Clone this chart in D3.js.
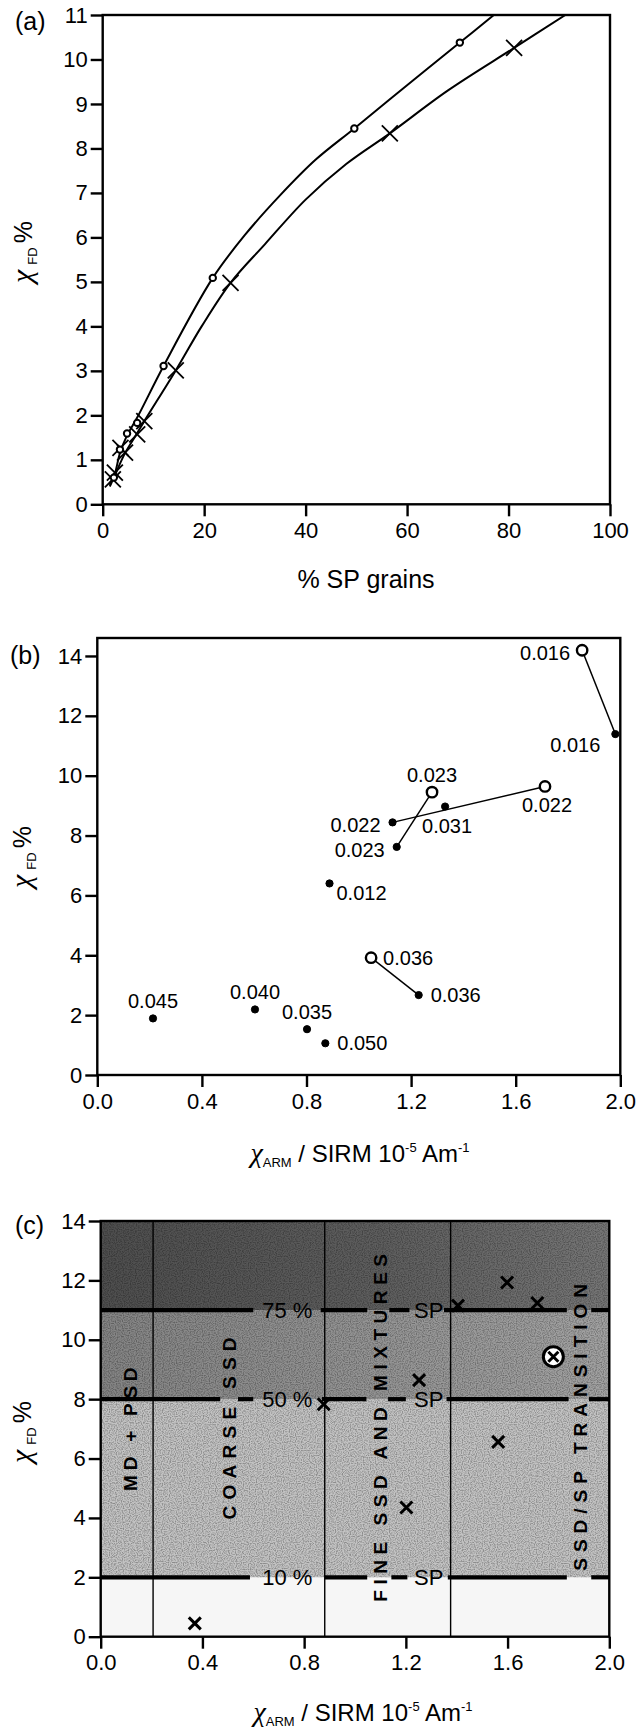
<!DOCTYPE html>
<html>
<head>
<meta charset="utf-8">
<script src="https://cdn.jsdelivr.net/npm/d3@7"></script>
<style>
    body { margin: 0; background: #fff; }
    svg text { font-family: "Liberation Sans", Arial, sans-serif; fill: #000; }
</style>
</head>
<body>
<svg id="chart" width="636" height="1731"></svg>
<script>
// ---------- panel (a): chi_FD % vs % SP grains ----------
var aDotX   = [2.2, 3.4, 4.8, 6.8, 12.0, 21.7, 49.6, 70.4];
var aDotY   = [0.60, 1.23, 1.59, 1.83, 3.11, 5.09, 8.45, 10.38];
var aCrossX = [2.0, 2.4, 3.5, 4.4, 6.8, 8.2, 14.4, 25.2, 56.6, 81.1];
var aCrossY = [0.56, 0.71, 1.27, 1.16, 1.57, 1.87, 3.01, 4.98, 8.34, 10.26];
// the two fitted curves
var aDotCurveX   = [1.2, 2.2, 3.4, 4.8, 6.8, 12.0, 21.7, 28.0, 35.0, 42.0, 49.6, 60.0, 70.4, 77.1];
var aDotCurveY   = [0.45, 0.62, 1.15, 1.55, 1.95, 3.11, 5.09, 6.05, 6.95, 7.75, 8.45, 9.42, 10.38, 11.0];
var aCrossCurveX = [1.4, 2.4, 4.4, 6.8, 8.2, 14.4, 19.5, 25.2, 32.0, 40.0, 48.0, 56.6, 68.0, 81.1, 91.2];
var aCrossCurveY = [0.40, 0.65, 1.15, 1.60, 1.87, 3.01, 4.00, 4.98, 5.85, 6.85, 7.65, 8.34, 9.30, 10.26, 11.0];
var aXTicks = [0, 20, 40, 60, 80, 100];
var aYTicks = [0, 1, 2, 3, 4, 5, 6, 7, 8, 9, 10, 11];

// ---------- panel (b): chi_FD % vs chiARM/SIRM, labelled points ----------
var bLabel = ["0.016", "0.016", "0.023", "0.022", "0.031", "0.022", "0.023", "0.012", "0.036", "0.036", "0.045", "0.040", "0.035", "0.050"];
var bX     = [1.854, 1.981, 1.280, 1.712, 1.330, 1.129, 1.145, 0.888, 1.047, 1.229, 0.213, 0.603, 0.802, 0.872];
var bY     = [14.19, 11.39, 9.45, 9.64, 8.97, 8.44, 7.62, 6.40, 3.92, 2.67, 1.89, 2.19, 1.53, 1.06];
var bOpen  = [true, false, true, true, false, false, false, false, true, false, false, false, false, false];
var bSide  = ["L", "BL", "A", "B", "B", "L", "L", "BR", "R", "R", "A", "A", "A", "R"];
var bLinks = [[0, 1], [2, 6], [5, 3], [8, 9]];
var bXTicks = [0, 0.4, 0.8, 1.2, 1.6, 2.0];
var bYTicks = [0, 2, 4, 6, 8, 10, 12, 14];

// ---------- panel (c): domain diagram ----------
var cBounds  = [2, 8, 11];
var cPercent = ["10 %", "50 %", "75 %"];
var cSegs = [
    [[0, 0.587], [0.881, 1.048], [1.143, 1.206], [1.365, 1.833], [1.929, 2.0]],
    [[0, 0.47], [0.54, 0.60], [0.87, 1.045], [1.13, 1.20], [1.36, 1.84], [1.92, 2.0]],
    [[0, 0.60], [0.865, 1.048], [1.135, 1.214], [1.35, 1.833], [1.929, 2.0]]
];
var cDivX    = [0.206, 0.881, 1.376];
var cRegion  = ["MD + PSD", "COARSE SSD", "FINE SSD AND MIXTURES", "SSD/SP TRANSITION"];
var cRegionX = [0.116, 0.505, 1.098, 1.884];
var cRegionY0 = [4.91, 3.95, 1.18, 2.22];
var cRegionY1 = [9.07, 10.08, 12.89, 11.88];
var cCrossX = [0.370, 1.202, 1.563, 0.877, 1.252, 1.598, 1.717, 1.405];
var cCrossY = [0.45, 4.35, 6.56, 7.83, 8.64, 11.93, 11.24, 11.15];
var cRingX = [1.78], cRingY = [9.43];
var cYTicks = [0, 2, 4, 6, 8, 10, 12, 14];

var svg = d3.select("#chart");
var defs = svg.append("defs");

// ---- shared helpers ----
function drawAxes(g, x, y, xTicks, yTicks, fmt, frame) {
    var ax = g.append("g").attr("transform", "translate(0," + y.range()[0] + ")")
        .call(d3.axisBottom(x).tickValues(xTicks).tickSize(12).tickPadding(6).tickFormat(fmt));
    var ay = g.append("g").attr("transform", "translate(" + x.range()[0] + ",0)")
        .call(d3.axisLeft(y).tickValues(yTicks).tickSize(12).tickPadding(3));
    [ax, ay].forEach(function(a) {
        a.select(".domain").remove();
        a.selectAll("line").attr("stroke", "#000").attr("stroke-width", 2.4);
        a.selectAll("text").attr("font-size", 22);
    });
    g.append("rect")
        .attr("x", x.range()[0]).attr("y", frame)
        .attr("width", x.range()[1] - x.range()[0])
        .attr("height", y.range()[0] - frame)
        .attr("fill", "none").attr("stroke", "#000").attr("stroke-width", 2.4);
}

function yTitle(g, cx, cy) {
    var t = g.append("text")
        .attr("transform", "translate(" + cx + "," + cy + ") rotate(-90)")
        .attr("text-anchor", "middle");
    t.append("tspan").attr("font-family", "Liberation Serif").attr("font-style", "italic")
        .attr("font-size", 30).text("χ");
    t.append("tspan").attr("font-size", 13).attr("dx", 5).attr("dy", 5).text("FD");
    t.append("tspan").attr("font-size", 25).attr("dx", 4).attr("dy", -5).text("%");
}

function xTitleArm(g, cx, by) {
    var t = g.append("text").attr("x", cx).attr("y", by).attr("text-anchor", "middle").attr("font-size", 24);
    t.append("tspan").attr("font-family", "Liberation Serif").attr("font-style", "italic")
        .attr("font-size", 28).text("χ");
    t.append("tspan").attr("font-size", 13).attr("dy", 5).text("ARM");
    t.append("tspan").attr("dy", -5).text(" / SIRM 10");
    t.append("tspan").attr("font-size", 13).attr("dy", -10).text("-5");
    t.append("tspan").attr("dy", 10).text(" Am");
    t.append("tspan").attr("font-size", 13).attr("dy", -10).text("-1");
}

function panelTag(g, x, by, s) {
    g.append("text").attr("x", x).attr("y", by)
        .attr("font-family", "Liberation Serif").attr("font-size", 25).text(s);
}

// =================== (a) ===================
var ga = svg.append("g");
var xa = d3.scaleLinear().domain([0, 100]).range([102.7, 610]);
var ya = d3.scaleLinear().domain([0, 11]).range([504.3, 15]);

defs.append("clipPath").attr("id", "clipA").append("rect")
    .attr("x", xa(0)).attr("y", ya(11)).attr("width", xa(100) - xa(0)).attr("height", ya(0) - ya(11));

var aLine = d3.line().x(function(d) { return xa(d[0]); }).y(function(d) { return ya(d[1]); })
    .curve(d3.curveCatmullRom.alpha(0.5));

[[aDotCurveX, aDotCurveY], [aCrossCurveX, aCrossCurveY]].forEach(function(c) {
    ga.append("path")
        .datum(d3.zip(c[0], c[1]))
        .attr("clip-path", "url(#clipA)")
        .attr("d", aLine)
        .attr("fill", "none").attr("stroke", "#000").attr("stroke-width", 2);
});

drawAxes(ga, xa, ya, aXTicks, aYTicks, d3.format("d"), ya(11));

ga.selectAll(".a-cross").data(d3.zip(aCrossX, aCrossY)).enter().append("path")
    .attr("class", "a-cross")
    .attr("transform", function(d) { return "translate(" + xa(d[0]) + "," + ya(d[1]) + ")"; })
    .attr("d", "M-8,-8L8,8M-8,8L8,-8")
    .attr("stroke", "#000").attr("stroke-width", 1.8);

ga.selectAll(".a-dot").data(d3.zip(aDotX, aDotY)).enter().append("circle")
    .attr("class", "a-dot")
    .attr("cx", function(d) { return xa(d[0]); })
    .attr("cy", function(d) { return ya(d[1]); })
    .attr("r", 3.2)
    .attr("fill", "#fff").attr("stroke", "#000").attr("stroke-width", 2);

yTitle(ga, 32, 252);
ga.append("text").attr("x", 366).attr("y", 588).attr("text-anchor", "middle")
    .attr("font-size", 25).text("% SP grains");
panelTag(ga, 15, 30, "(a)");

// =================== (b) ===================
var gb = svg.append("g");
var xb = d3.scaleLinear().domain([0, 2]).range([97.3, 620.3]);
var yb = d3.scaleLinear().domain([0, 14.6]).range([1075, 638]);

drawAxes(gb, xb, yb, bXTicks, bYTicks, d3.format(".1f"), yb(14.6));

gb.selectAll(".b-link").data(bLinks).enter().append("line")
    .attr("class", "b-link")
    .attr("x1", function(d) { return xb(bX[d[0]]); })
    .attr("y1", function(d) { return yb(bY[d[0]]); })
    .attr("x2", function(d) { return xb(bX[d[1]]); })
    .attr("y2", function(d) { return yb(bY[d[1]]); })
    .attr("stroke", "#000").attr("stroke-width", 1.5);

var bIdx = d3.range(bX.length);
gb.selectAll(".b-pt").data(bIdx).enter().append("circle")
    .attr("class", "b-pt")
    .attr("cx", function(i) { return xb(bX[i]); })
    .attr("cy", function(i) { return yb(bY[i]); })
    .attr("r", function(i) { return bOpen[i] ? 5.2 : 3.6; })
    .attr("fill", function(i) { return bOpen[i] ? "#fff" : "#000"; })
    .attr("stroke", "#000")
    .attr("stroke-width", function(i) { return bOpen[i] ? 2.4 : 1; });

// label placement around a point
var sideOffset = {
    A:  { anchor: "middle", dx: 0,   dy: -10 },
    B:  { anchor: "middle", dx: 2,   dy: 26 },
    L:  { anchor: "end",    dx: -12, dy: 10 },
    R:  { anchor: "start",  dx: 12,  dy: 7 },
    BL: { anchor: "end",    dx: -15, dy: 18 },
    BR: { anchor: "start",  dx: 7,   dy: 17 }
};
gb.selectAll(".b-lab").data(bIdx).enter().append("text")
    .attr("class", "b-lab")
    .attr("x", function(i) { return xb(bX[i]) + sideOffset[bSide[i]].dx; })
    .attr("y", function(i) { return yb(bY[i]) + sideOffset[bSide[i]].dy; })
    .attr("text-anchor", function(i) { return sideOffset[bSide[i]].anchor; })
    .attr("font-size", 20)
    .text(function(i) { return bLabel[i]; });

yTitle(gb, 31, 857);
xTitleArm(gb, 360, 1162);
panelTag(gb, 10, 664, "(b)");

// =================== (c) ===================
var gc = svg.append("g");
var xc = d3.scaleLinear().domain([0, 2]).range([100.7, 609.3]);
var yc = d3.scaleLinear().domain([0, 14]).range([1636.7, 1221]);

// shading bands, darker towards high chi_FD
var gTop = defs.append("linearGradient").attr("id", "gTop");
gTop.append("stop").attr("offset", 0).attr("stop-color", "#4e4e4e");
gTop.append("stop").attr("offset", 0.55).attr("stop-color", "#5e5e5e");
gTop.append("stop").attr("offset", 1).attr("stop-color", "#767676");
var gMid = defs.append("linearGradient").attr("id", "gMid");
gMid.append("stop").attr("offset", 0).attr("stop-color", "#848484");
gMid.append("stop").attr("offset", 1).attr("stop-color", "#a2a2a2");

var bandEdges = [0].concat(cBounds, [14]);
var bandFill = ["#f6f6f6", "#c3c3c3", "url(#gMid)", "url(#gTop)"];
gc.selectAll(".c-band").data(d3.range(4)).enter().append("rect")
    .attr("class", "c-band")
    .attr("x", xc(0)).attr("width", xc(2) - xc(0))
    .attr("y", function(i) { return yc(bandEdges[i + 1]); })
    .attr("height", function(i) { return yc(bandEdges[i]) - yc(bandEdges[i + 1]); })
    .attr("fill", function(i) { return bandFill[i]; });

// print screen texture
var grain = defs.append("filter").attr("id", "grain")
    .attr("x", 0).attr("y", 0).attr("width", "100%").attr("height", "100%");
grain.append("feTurbulence").attr("type", "fractalNoise").attr("baseFrequency", 0.85)
    .attr("numOctaves", 1).attr("seed", 7).attr("result", "n");
grain.append("feColorMatrix").attr("in", "n").attr("type", "matrix")
    .attr("values", "0 0 0 0 0  0 0 0 0 0  0 0 0 0 0  0 0 0 -3 1.8").attr("result", "a");
grain.append("feComposite").attr("in", "a").attr("in2", "SourceGraphic").attr("operator", "in");
gc.append("rect")
    .attr("x", xc(0)).attr("width", xc(2) - xc(0))
    .attr("y", yc(14)).attr("height", yc(2) - yc(14))
    .attr("fill", "#000").attr("opacity", 0.28).attr("filter", "url(#grain)");

// vertical domain boundaries
gc.selectAll(".c-div").data(cDivX).enter().append("line")
    .attr("class", "c-div")
    .attr("x1", function(d) { return xc(d); }).attr("x2", function(d) { return xc(d); })
    .attr("y1", yc(0)).attr("y2", yc(14))
    .attr("stroke", "#000").attr("stroke-width", 1.4);

// % SP boundaries
cBounds.forEach(function(b, k) {
    gc.selectAll(".c-seg" + k).data(cSegs[k]).enter().append("line")
        .attr("x1", function(d) { return xc(d[0]); }).attr("x2", function(d) { return xc(d[1]); })
        .attr("y1", yc(b)).attr("y2", yc(b))
        .attr("stroke", "#000").attr("stroke-width", 4.2);
    gc.append("text").attr("x", xc(0.734)).attr("y", yc(b) + 8)
        .attr("text-anchor", "middle").attr("font-size", 22).text(cPercent[k]);
    gc.append("text").attr("x", xc(1.29)).attr("y", yc(b) + 8)
        .attr("text-anchor", "middle").attr("font-size", 22).text("SP");
});

// region names, written upwards
gc.selectAll(".c-reg").data(d3.range(cRegion.length)).enter().append("text")
    .attr("class", "c-reg")
    .attr("transform", function(i) {
        return "translate(" + (xc(cRegionX[i]) + 7) + "," + yc((cRegionY0[i] + cRegionY1[i]) / 2) + ") rotate(-90)";
    })
    .attr("text-anchor", "middle")
    .attr("font-size", 19).attr("font-weight", "bold")
    .attr("textLength", function(i) { return yc(cRegionY0[i]) - yc(cRegionY1[i]); })
    .attr("lengthAdjust", "spacing")
    .text(function(i) { return cRegion[i]; });

gc.selectAll(".c-cross").data(d3.zip(cCrossX, cCrossY)).enter().append("path")
    .attr("class", "c-cross")
    .attr("transform", function(d) { return "translate(" + xc(d[0]) + "," + yc(d[1]) + ")"; })
    .attr("d", "M-6,-6L6,6M-6,6L6,-6")
    .attr("stroke", "#000").attr("stroke-width", 3);

var ring = gc.selectAll(".c-ring").data(d3.zip(cRingX, cRingY)).enter().append("g")
    .attr("class", "c-ring")
    .attr("transform", function(d) { return "translate(" + xc(d[0]) + "," + yc(d[1]) + ")"; });
ring.append("circle").attr("r", 10).attr("fill", "#fff").attr("stroke", "#000").attr("stroke-width", 3);
ring.append("path").attr("d", "M-5,-5L5,5M-5,5L5,-5").attr("stroke", "#000").attr("stroke-width", 3);

drawAxes(gc, xc, yc, bXTicks, cYTicks, d3.format(".1f"), yc(14));

yTitle(gc, 31, 1432);
xTitleArm(gc, 363, 1721);
panelTag(gc, 15, 1234, "(c)");
</script>
</body>
</html>
